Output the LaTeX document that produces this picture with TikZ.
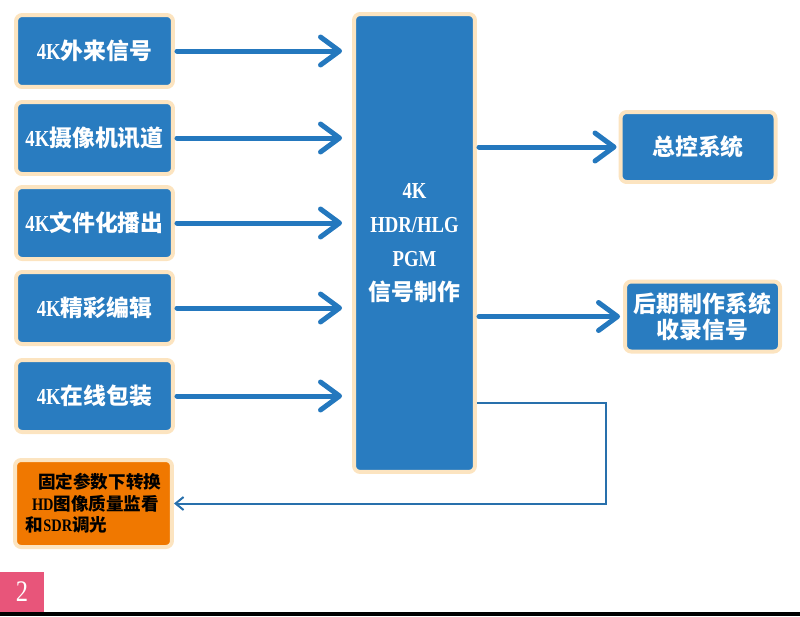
\documentclass[tikz,border=0pt]{standalone}
\usepackage{fontspec}
\setmainfont{Liberation Serif}[FakeStretch=0.82]
\newfontfamily\cjk{Noto Sans CJK SC}
\usetikzlibrary{arrows.meta, positioning, calc}
\definecolor{cBoxFill}{RGB}{41, 124, 192}
\definecolor{cBoxEdge}{RGB}{252, 228, 192}
\definecolor{cFlow}{RGB}{36, 120, 190}
\definecolor{cLoop}{RGB}{40, 112, 172}
\definecolor{cMonFill}{RGB}{240, 120, 0}
\definecolor{cTag}{RGB}{232, 85, 122}
\tikzset{
    blockBox/.style={
        rectangle, rounded corners=3.5pt,
        fill=cBoxFill, draw=cBoxEdge, line width=0.08cm,
        text=white, inner sep=0pt, align=center,
        font=\fontsize{13}{14.5}\selectfont\bfseries
    },
    srcBox/.style={blockBox, minimum width=3.14cm, minimum height=1.44cm},
    hubBox/.style={blockBox, minimum width=2.42cm, minimum height=9.16cm,
        font=\fontsize{13}{19.5}\selectfont\bfseries},
    sinkBox/.style={blockBox, minimum width=3.1cm, minimum height=1.4cm},
    monBox/.style={blockBox, fill=cMonFill, text=black, align=left,
        minimum width=3.14cm, minimum height=1.74cm,
        font=\fontsize{10}{12.2}\selectfont\bfseries},
    tagBox/.style={rectangle, fill=cTag, text=white, inner sep=0pt,
        minimum width=0.88cm, minimum height=0.8cm,
        font=\fontsize{17}{17}\selectfont},
    flowArrow/.style={
        draw=cFlow, line width=0.1cm, line cap=round,
        -{Straight Barb[round, length=0.38cm, width=0.56cm]},
        shorten <=0.04cm
    },
    loopLine/.style={
        draw=cLoop, line width=0.04cm,
        -{Straight Barb[length=0.16cm, width=0.26cm]}
    }
}

\begin{document}
\begin{tikzpicture}[x=0.02cm, y=-0.02cm]
    \useasboundingbox (0,0) rectangle (800,616);

    % input signals
    \node [srcBox] (srcExt)  at (94.5,51)  {4K{\cjk 外来信号}};
    \node [srcBox] (srcCam)  at (94.5,138) {4K{\cjk 摄像机讯道}};
    \node [srcBox] (srcFile) at (94.5,223) {4K{\cjk 文件化播出}};
    \node [srcBox] (srcEdit) at (94.5,308) {4K{\cjk 精彩编辑}};
    \node [srcBox] (srcPkg)  at (94.5,396) {4K{\cjk 在线包装}};

    % production
    \node [hubBox] (hub) at (414.5,243) {4K\\HDR/HLG\\PGM\\{\cjk 信号制作}};

    % outputs
    \node [sinkBox] (sinkCtrl) at (698,147)     {{\cjk 总控系统}};
    \node [sinkBox] (sinkPost) at (702.5,316.5) {{\cjk 后期制作系统}\\{\cjk 收录信号}};
    \node [monBox]  (monSdr)   at (93.5,503.5)  {\hspace*{0.7em}{\cjk 固定参数下转换}\\
        \hspace*{0.35em}HD{\cjk 图像质量监看}\\
        {\cjk 和}SDR{\cjk 调光}};

    \foreach \src in {srcExt, srcCam, srcFile, srcEdit, srcPkg}
        \draw [flowArrow, shorten >=0.2cm] (\src.east) -- (\src.east -| hub.west);

    \draw [flowArrow, shorten >=0.04cm] (hub.east |- sinkCtrl.west) -- (sinkCtrl.west);
    \draw [flowArrow, shorten >=0.06cm] (hub.east |- sinkPost.west) -- (sinkPost.west);

    \coordinate (loopCorner) at (606,403);
    \draw [loopLine] (hub.east |- loopCorner) -- (loopCorner) |- (monSdr.east);

    % page mark
    \node [tagBox] (pageTag) at (22,592) {2};
    \fill [black] (0,612) rectangle (800,616);
\end{tikzpicture}
\end{document}
